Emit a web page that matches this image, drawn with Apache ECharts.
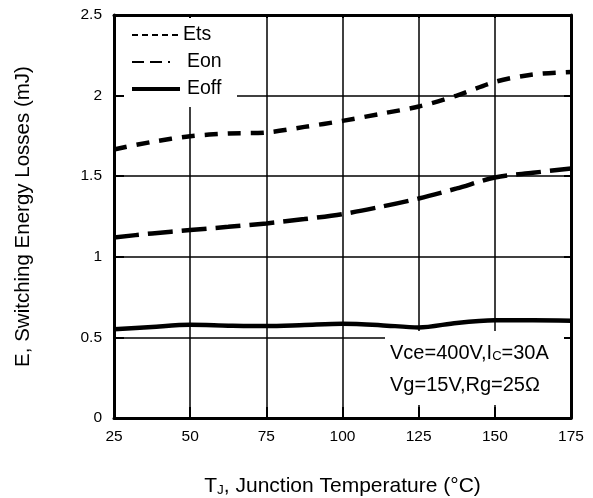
<!DOCTYPE html>
<html>
<head>
<meta charset="utf-8">
<script src="https://cdn.jsdelivr.net/npm/echarts@6/dist/echarts.min.js"></script>
<style>
  html, body { margin: 0; padding: 0; background: #fff; }
  #chart { width: 593px; height: 498px; }
</style>
</head>
<body>
<div id="chart"></div>
<script>
// Junction temperature (°C)
var temps = [25, 37.5, 50, 62.5, 75, 87.5, 100, 112.5, 125, 137.5, 150, 162.5, 175];
// Switching energy losses (mJ)
var ets  = [1.666, 1.713, 1.748, 1.765, 1.771, 1.806, 1.843, 1.887, 1.932, 2.000, 2.085, 2.131, 2.147];
var eon  = [1.120, 1.145, 1.166, 1.186, 1.207, 1.234, 1.265, 1.310, 1.362, 1.424, 1.492, 1.521, 1.548];
var eoff = [0.550, 0.565, 0.578, 0.573, 0.570, 0.577, 0.584, 0.576, 0.562, 0.590, 0.606, 0.607, 0.604];

var xTicks = { min: 25, max: 175, interval: 25 };
var yTicks = { min: 0, max: 2.5, interval: 0.5 };

var FONT = 'Arial, "Liberation Sans", sans-serif';

function pairs(xs, ys) {
  return xs.map(function (x, i) { return [x, ys[i]]; });
}

var chart = echarts.init(document.getElementById('chart'), null, { renderer: 'canvas' });

// heavy frame drawn above the white panels
var frameAxis = function (pos, tickLen) {
  return {
    type: 'value', min: 0, max: 1, position: pos, z: 10,
    axisLine: { show: true, onZero: false, lineStyle: { color: '#000', width: 3 } },
    axisTick: { show: tickLen > 0, inside: true, length: tickLen, lineStyle: { color: '#000', width: 2 } },
    axisLabel: { show: false },
    splitLine: { show: false }
  };
};

var xTop = frameAxis('top', 3);
var xBottom = frameAxis('bottom', 11);
var yLeft = frameAxis('left', 10);
var yRight = frameAxis('right', 7);
[xTop, xBottom].forEach(function (a) { a.min = xTicks.min; a.max = xTicks.max; a.interval = xTicks.interval; });
[yLeft, yRight].forEach(function (a) { a.min = yTicks.min; a.max = yTicks.max; a.interval = yTicks.interval; });

var option = {
  backgroundColor: '#fff',
  animation: false,
  grid: { left: 114, top: 15, right: 22, bottom: 80, containLabel: false, outerBoundsMode: 'none' },
  xAxis: [
    {
      type: 'value', min: xTicks.min, max: xTicks.max, interval: xTicks.interval,
      position: 'bottom', z: 0,
      axisLine: { show: false, onZero: false },
      axisTick: { show: false },
      splitLine: { show: true, lineStyle: { color: '#000', width: 1.5 } },
      axisLabel: { fontSize: 15.5, color: '#000', fontFamily: FONT, margin: 11 },
      name: '{a|T}{s|J}{a|, Junction Temperature (°C)}',
      nameLocation: 'middle',
      nameGap: 57,
      nameTextStyle: {
        rich: {
          a: { fontSize: 21, color: '#000', fontFamily: FONT },
          s: { fontSize: 13.5, color: '#000', fontFamily: FONT, verticalAlign: 'bottom', padding: [8, 0, 0, 0] }
        }
      }
    },
    xBottom,
    xTop
  ],
  yAxis: [
    {
      type: 'value', min: yTicks.min, max: yTicks.max, interval: yTicks.interval,
      position: 'left', z: 0,
      axisLine: { show: false, onZero: false },
      axisTick: { show: false },
      splitLine: { show: true, lineStyle: { color: '#000', width: 1.5 } },
      axisLabel: { fontSize: 15.5, color: '#000', fontFamily: FONT, margin: 12 },
      name: 'E, Switching Energy Losses (mJ)',
      nameLocation: 'middle',
      nameGap: 80,
      nameTextStyle: { fontSize: 20.5, color: '#000', fontFamily: FONT }
    },
    yLeft,
    yRight
  ],
  series: [
    {
      name: 'Ets', type: 'line', xAxisIndex: 0, yAxisIndex: 0,
      data: pairs(temps, ets), smooth: 0.3, showSymbol: false, z: 3,
      lineStyle: { color: '#000', width: 4.5, type: [13, 10], cap: 'butt' }
    },
    {
      name: 'Eon', type: 'line', xAxisIndex: 0, yAxisIndex: 0,
      data: pairs(temps, eon), smooth: 0.3, showSymbol: false, z: 3,
      lineStyle: { color: '#000', width: 4.5, type: [25, 9], cap: 'butt' }
    },
    {
      name: 'Eoff', type: 'line', xAxisIndex: 0, yAxisIndex: 0,
      data: pairs(temps, eoff), smooth: 0.3, showSymbol: false, z: 3,
      lineStyle: { color: '#000', width: 4.5, type: 'solid' }
    }
  ],
  graphic: [
    // legend panel
    { type: 'rect', z: 5, shape: { x: 123, y: 17, width: 114, height: 90 }, style: { fill: '#fff' } },
    { type: 'line', z: 6, shape: { x1: 132, y1: 35, x2: 180, y2: 35 }, style: { stroke: '#000', lineWidth: 2, lineDash: [6, 4] } },
    { type: 'line', z: 6, shape: { x1: 132, y1: 62, x2: 181, y2: 62 }, style: { stroke: '#000', lineWidth: 2, lineDash: [12, 6, 12, 6, 2, 20] } },
    { type: 'line', z: 6, shape: { x1: 132, y1: 89, x2: 180, y2: 89 }, style: { stroke: '#000', lineWidth: 4 } },
    { type: 'text', z: 6, x: 183, y: 35, style: { text: 'Ets', fontSize: 19.5, fontFamily: FONT, fill: '#000', verticalAlign: 'middle' } },
    { type: 'text', z: 6, x: 187, y: 62, style: { text: 'Eon', fontSize: 19.5, fontFamily: FONT, fill: '#000', verticalAlign: 'middle' } },
    { type: 'text', z: 6, x: 187, y: 89, style: { text: 'Eoff', fontSize: 19.5, fontFamily: FONT, fill: '#000', verticalAlign: 'middle' } },
    // test condition panel
    { type: 'rect', z: 5, shape: { x: 385, y: 331, width: 179, height: 74 }, style: { fill: '#fff' } },
    {
      type: 'text', z: 6, x: 390, y: 353,
      style: {
        text: '{a|Vce=400V,I}{s|C}{a|=30A}',
        verticalAlign: 'middle',
        rich: {
          a: { fontSize: 20, fontFamily: FONT, fill: '#000' },
          s: { fontSize: 13, fontFamily: FONT, fill: '#000', verticalAlign: 'bottom', padding: [6, 0, 0, 0] }
        }
      }
    },
    { type: 'text', z: 6, x: 390, y: 385, style: { text: 'Vg=15V,Rg=25Ω', fontSize: 20, fontFamily: FONT, fill: '#000', verticalAlign: 'middle' } }
  ]
};

chart.setOption(option);
</script>
</body>
</html>
